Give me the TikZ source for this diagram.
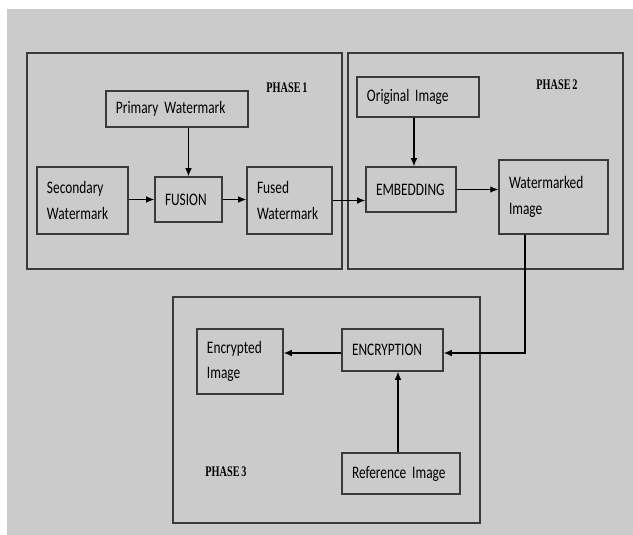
\documentclass[tikz,border=0pt]{standalone}
\usepackage{fontspec}
\setmainfont[FakeStretch=0.76, WordSpace=0.7]{Carlito}
\newfontfamily\phasefont[FakeStretch=0.7, WordSpace=0.7]{Liberation Serif}
\usetikzlibrary{arrows.meta}
\definecolor{bggray}{RGB}{203,203,203}
\definecolor{boxline}{RGB}{58,58,58}

\begin{document}
\begin{tikzpicture}[x = 0.03cm, y = -0.03cm,
    box/.style = {draw=boxline, line width=0.45mm, align=left, inner xsep=0.3cm, inner ysep=0pt,
                  font=\fontsize{15}{22}\selectfont},
    phaselabel/.style = {font=\phasefont\bfseries\fontsize{12.5}{14}\selectfont},
    arr/.style = {-{Latex[length=2.4mm, width=2mm]}, line width=0.35mm, black}]
                \useasboundingbox (0,0) rectangle (633,535);
                \fill[bggray] (7,9) rectangle (633,535);
                % phases
                \draw[boxline, line width=0.45mm] (27,53) rectangle (342,269);
                \draw[boxline, line width=0.45mm] (348,53) rectangle (623,269);
                \draw[boxline, line width=0.45mm] (173,297) rectangle (480,523);
                \node[phaselabel] (ph1) at (287,88) {PHASE 1};
                \node[phaselabel] (ph2) at (557,85) {PHASE 2};
                \node[phaselabel] (ph3) at (226,472) {PHASE 3};
                % phase 1
                \node[box, text width=3.66cm, minimum height=1.08cm] (prim) at (177,109) {Primary Watermark};
                \node[box, text width=2.13cm, minimum height=2.01cm] (sec) at (82.5,200.5) {Secondary\\Watermark};
                \node[box, text width=1.41cm, minimum height=1.35cm] (fus) at (188.5,199.5) {FUSION};
                \node[box, text width=1.95cm, minimum height=2.01cm] (fused) at (289.5,200.5) {Fused\\Watermark};
                % phase 2
                \node[box, text width=3.06cm, minimum height=1.2cm] (orig) at (418,97) {Original Image};
                \node[box, text width=2.1cm, minimum height=1.35cm] (emb) at (411,189.5) {EMBEDDING};
                \node[box, text width=2.67cm, minimum height=2.22cm] (wm) at (553.5,197) {Watermarked\\Image};
                % phase 3
                \node[box, text width=1.98cm, minimum height=1.95cm] (encd) at (240,361.5) {Encrypted\\Image};
                \node[box, text width=2.43cm, minimum height=1.26cm] (encr) at (392.5,350) {ENCRYPTION};
                \node[box, text width=2.94cm, minimum height=1.23cm] (ref) at (401,473.5) {Reference Image};
                \coordinate (turn) at (525,353);
                % arrows
                \draw[arr] (fus.north |- prim.south) -- (fus.north);
                \draw[arr] (sec.east |- fus) -- (fus.west);
                \draw[arr] (fus.east) -- (fused.west |- fus.east);
                \draw[arr] (fused.east) -- (emb.west |- fused.east);
                \draw[arr] ([xshift=0.09cm]emb.north |- orig.south) -- ([xshift=0.09cm]emb.north);
                \draw[arr] (emb.east) -- (wm.west |- emb.east);
                \draw[arr] (wm.south -| turn) -- (turn) -- (encr.east |- turn);
                \draw[arr] (encr.west |- turn) -- (encd.east |- turn);
                \draw[arr] (ref.north -| 398,0) -- (encr.south -| 398,0);

            \end{tikzpicture}
\end{document}
